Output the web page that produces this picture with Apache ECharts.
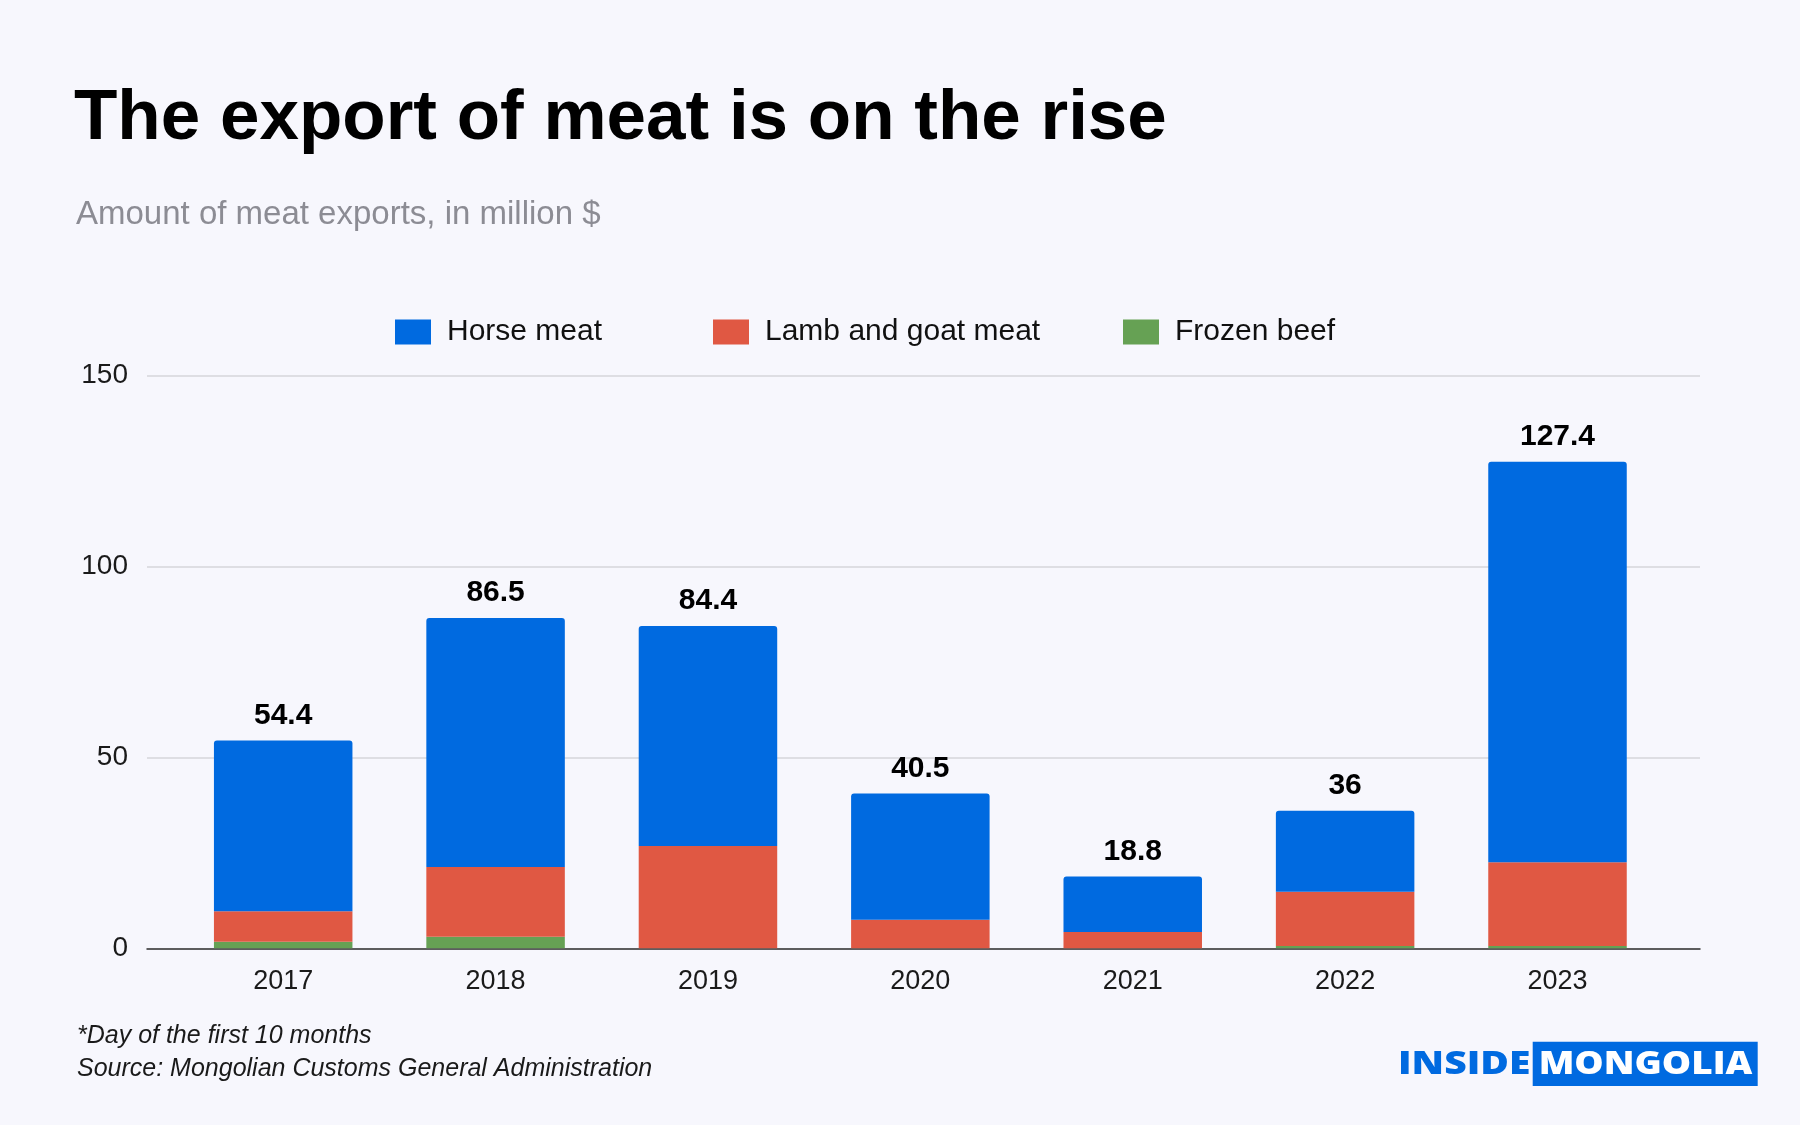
<!DOCTYPE html>
<html>
<head>
<meta charset="utf-8">
<script src="https://cdn.jsdelivr.net/npm/echarts@6/dist/echarts.min.js"></script>
<style>
html,body{margin:0;padding:0;background:#f7f7fd;}
#chart{width:1800px;height:1125px;}
</style>
</head>
<body>
<div id="chart"></div>
<script>
const categories = ['2017', '2018', '2019', '2020', '2021', '2022', '2023'];
const totals = [54.4, 86.5, 84.4, 40.5, 18.8, 36, 127.4];
const horseMeat = [44.7, 65.2, 57.6, 33.0, 14.5, 21.2, 104.9];
const lambGoatMeat = [8.0, 18.3, 26.8, 7.5, 4.3, 14.2, 21.9];
const frozenBeef = [1.7, 3.0, 0, 0, 0, 0.6, 0.6];
const yTicks = [0, 50, 100, 150];
const legendNames = ['Horse meat', 'Lamb and goat meat', 'Frozen beef'];

const FONT = 'Liberation Sans';
const BLUE = '#006ae0', RED = '#e05843', GREEN = '#66a154';

const chart = echarts.init(document.getElementById('chart'));
const gridTop = 375.4, gridBottom = 1125 - 948.3;

const legendLefts = [395, 713, 1123];
const legends = legendNames.map((n, i) => ({
  data: [n],
  left: legendLefts[i], top: 317, padding: 0,
  itemWidth: 36, itemHeight: 25,
  icon: 'rect',
  textStyle: { fontFamily: FONT, fontSize: 30, color: '#111', padding: [0, 0, 0, 11] }
}));

chart.setOption({
  backgroundColor: '#f7f7fd',
  animation: false,
  textStyle: { fontFamily: FONT },
  legend: legends,
  grid: [
    { left: 177, right: 136.3, top: gridTop, bottom: gridBottom },
    { left: 147, right: 100, top: gridTop, bottom: gridBottom }
  ],
  xAxis: [
    {
      type: 'category', gridIndex: 0, data: categories,
      axisLine: { show: false }, axisTick: { show: false },
      axisLabel: { fontFamily: FONT, fontSize: 27, color: '#1a1a1a', margin: 20 }
    },
    {
      type: 'value', gridIndex: 1, min: 0, max: 1,
      axisLine: { show: true, onZero: false, lineStyle: { color: '#333', width: 1.5 } },
      axisTick: { show: false }, axisLabel: { show: false }, splitLine: { show: false }
    }
  ],
  yAxis: [
    {
      type: 'value', gridIndex: 0, min: yTicks[0], max: yTicks[yTicks.length - 1], interval: 50,
      axisLabel: { show: false }, axisLine: { show: false }, axisTick: { show: false },
      splitLine: { show: false }
    },
    {
      type: 'value', gridIndex: 1, min: yTicks[0], max: yTicks[yTicks.length - 1], interval: 50,
      axisLine: { show: false }, axisTick: { show: false },
      axisLabel: { fontFamily: FONT, fontSize: 28, color: '#1a1a1a', margin: 19 },
      splitLine: { show: true, lineStyle: { color: '#d6d6da', width: 1.5 } }
    }
  ],
  series: [
    {
      name: 'Frozen beef', type: 'bar', stack: 'total', xAxisIndex: 0, yAxisIndex: 0,
      data: frozenBeef, barWidth: 138.5, itemStyle: { color: GREEN }, z: 3
    },
    {
      name: 'Lamb and goat meat', type: 'bar', stack: 'total', xAxisIndex: 0, yAxisIndex: 0,
      data: lambGoatMeat, barWidth: 138.5, itemStyle: { color: RED }, z: 3
    },
    {
      name: 'Horse meat', type: 'bar', stack: 'total', xAxisIndex: 0, yAxisIndex: 0,
      data: horseMeat, barWidth: 138.5, itemStyle: { color: BLUE, borderRadius: [3, 3, 0, 0] }, z: 3,
      label: {
        show: true, position: 'top', distance: 10,
        fontFamily: FONT, fontSize: 30, fontWeight: 'bold', color: '#000',
        formatter: p => String(totals[p.dataIndex])
      }
    }
  ],
  graphic: [
    { type: 'text', left: 74, top: 84, style: { text: 'The export of meat is on the rise', font: 'bold 71px "Liberation Sans"', fill: '#000' } },
    { type: 'text', left: 76, top: 198, style: { text: 'Amount of meat exports, in million $', font: '33px "Liberation Sans"', fill: '#8c8c94' } },
    { type: 'text', left: 77, top: 1024, style: { text: '*Day of the first 10 months', font: 'italic 25px "Liberation Sans"', fill: '#1a1a1a' } },
    { type: 'text', left: 77, top: 1057, style: { text: 'Source: Mongolian Customs General Administration', font: 'italic 25px "Liberation Sans"', fill: '#1a1a1a' } },
    { type: 'rect', shape: { x: 1532.7, y: 1041.7, width: 225, height: 44.3 }, style: { fill: BLUE } },
    { type: 'text', x: 1398, y: 1065, scaleX: 1.26, style: { text: 'INSIDE', font: '800 31px "Open Sans"', fill: BLUE, textVerticalAlign: 'middle' } },
    { type: 'text', x: 1645.5, y: 1065, scaleX: 1.19, style: { text: 'MONGOLIA', font: '800 31px "Open Sans"', fill: '#fff', textAlign: 'center', textVerticalAlign: 'middle' } }
  ]
});
</script>
</body>
</html>
